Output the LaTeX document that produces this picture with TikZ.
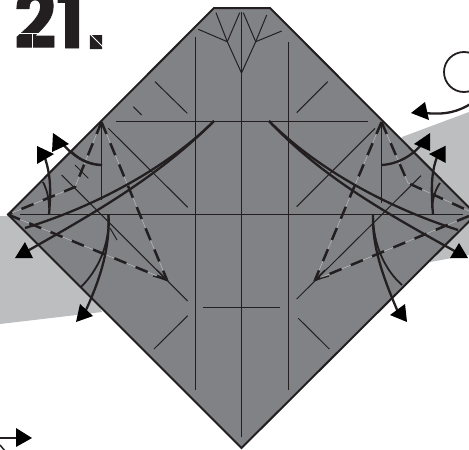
\documentclass[tikz,border=0pt]{standalone}
\usepackage{fontspec}
\newfontfamily\titlefont[BoldFeatures={FakeBold=1.2}]{Poppins}
\newfontfamily\dotfont[BoldFeatures={FakeBold=2.5}]{Liberation Sans}
\definecolor{ink}{HTML}{231F20}
\definecolor{paper}{HTML}{808285}
\definecolor{band}{HTML}{BCBEC0}
\tikzset{
  crease/.style={draw=ink,line width=1pt},
  edge/.style={draw=ink,line width=2pt,line join=miter},
  heavy/.style={draw=ink,line width=2.3pt},
  arc/.style={draw=ink,line width=1.8pt},
  mountain/.style={draw=ink,line width=2.5pt,dash pattern=on 13pt off 10pt},
  dots/.style={draw=white!55!paper,line width=0.4pt},
  head/.style={fill=black,draw=none},
  stencil/.style={draw=white,line width=1pt}
}
\begin{document}
\begin{tikzpicture}[x=1pt,y=-1pt]
\useasboundingbox (0,0) rectangle (469,450);
\clip (0,0) rectangle (469,450);
% background bands
\fill[band] (0,216) -- (60,216) -- (102,312) -- (0,324) -- cycle;
\fill[band] (402,137) -- (469,112) -- (469,255) -- (430,262) -- (380,200) -- cycle;
% paper
\path[fill=paper,edge] (214,8) -- (270,8) -- (476,214.5) -- (241.5,448) -- (8,214.5) -- cycle;
% title
\node[anchor=base west,inner sep=0pt,font=\bfseries\fontsize{80}{80}\selectfont,text=ink,xscale=0.92] (title) at (14,48) {{\titlefont 21}\kern2pt{\dotfont .}};
\draw[stencil] (17,33) -- (46,33);
\draw[stencil] (32,33) -- (32,49);
\draw[stencil] (90,34) -- (103,47);
% creases
\draw[crease] (195.5,37) -- (195.5,390);
\draw[crease] (241.5,12) -- (241.5,437);
\draw[crease] (288.5,42) -- (288.5,390);
\draw[crease] (116,121.5) -- (368,121.5);
\draw[crease] (20,214.5) -- (463,214.5);
\draw[crease] (203,307.5) -- (280,307.5);
\draw[crease] (241.5,73) -- (255.7,41.7) -- (243.3,12.7);
\draw[crease] (255.7,41.7) -- (266.7,15);
\draw[crease] (255.7,41.7) -- (281.7,31);
\draw[crease] (241.5,73) -- (227.3,41.7) -- (239.7,12.7);
\draw[crease] (227.3,41.7) -- (216,12.7);
\draw[crease] (227.3,41.7) -- (198.3,29.3);
\draw[crease] (155,81.7) -- (187.3,113.3);
\draw[crease] (133.3,106.7) -- (141.7,115);
\draw[crease] (108.3,128.3) -- (187.7,207.3);
\draw[crease] (61.7,175) -- (187.7,301);
\draw[crease] (75,165) -- (88.3,178.3);
\draw[crease] (154,349) -- (187.7,315.7);
\draw[crease] (296.7,112.7) -- (327.7,81.7);
\draw[crease] (296.7,206.7) -- (375,128.3);
\draw[crease] (421,175.7) -- (296.7,299);
\draw[crease] (298.3,318.3) -- (329.3,349);
\draw[crease] (101.5,122) -- (101.5,200);
\draw[crease] (381.5,122) -- (381.5,203);
\draw[crease] (110,228) -- (117,240);
% mountain folds
\draw[dots] (101.5,122) -- (75,187) -- (8,214.5);
\draw[mountain] (101.5,122) -- (75,187) -- (8,214.5);
\draw[dots] (101.5,122) -- (167,280) -- (8,214.5);
\draw[mountain] (101.5,122) -- (167,280);
\draw[mountain] (8,214.5) -- (167,280);
\draw[dots] (381.5,122) -- (408,183) -- (469,211);
\draw[mountain] (381.5,122) -- (408,183) -- (469,211);
\draw[dots] (381.5,122) -- (315,280) -- (469,216);
\draw[mountain] (381.5,122) -- (315,280);
\draw[mountain] (469,216) -- (315,280);
% open arrow tips on the dashed folds
\draw[crease,line width=1.3pt] (157,270) -- (167,280) -- (153,276);
\draw[crease,line width=1.3pt] (325,270) -- (315,280) -- (329,276);
% long swivel curves
\draw[heavy] (214,121) .. controls (170,165) and (100,205) .. (25,228);
\draw[heavy] (214,121) .. controls (160,175) and (100,210) .. (22,254);
\draw[heavy] (269,121) .. controls (313,165) and (380,205) .. (458,230);
\draw[heavy] (269,121) .. controls (320,175) and (380,210) .. (460,254);
% arcs upper left
\draw[heavy] (102,165) .. controls (85,165) and (72,155) .. (60,141);
\draw[arc] (72,152) .. controls (80,160) and (90,164) .. (102,165);
\draw[heavy] (49,214.5) .. controls (51,190) and (51,175) .. (44,155);
\draw[arc] (43,182) .. controls (47,190) and (49,198) .. (49,208);
% arcs upper right
\draw[heavy] (381.5,165) .. controls (398,164) and (412,156) .. (423,143);
\draw[heavy] (433,214.5) .. controls (431,190) and (431,170) .. (438,155);
\draw[arc] (440,183) .. controls (435,190) and (433,198) .. (432,208);
% arcs lower left
\draw[heavy] (108.5,214.5) .. controls (110,245) and (102,275) .. (86,310);
\draw[arc] (108.5,214.5) .. controls (110,245) and (98,270) .. (81,287);
% arcs lower right
\draw[heavy] (373,214.5) .. controls (372,245) and (382,275) .. (398,312);
\draw[arc] (373,214.5) .. controls (373,245) and (385,270) .. (402,285);
% arrowheads
\fill[head] (15,258) -- (25,242) -- (33,258) -- cycle;
\fill[head] (468,258) -- (459,243) -- (450,258) -- cycle;
\fill[head] (53,133) -- (52,152) -- (69,144) -- cycle;
\fill[head] (37,146) -- (37,164) -- (54,154) -- cycle;
\fill[head] (430,133) -- (414,144) -- (430,151) -- cycle;
\fill[head] (445.7,145.7) -- (429,154) -- (445.7,163) -- cycle;
\fill[head] (76,322) -- (80,304) -- (93,316) -- cycle;
\fill[head] (407,322) -- (405,304) -- (390,315) -- cycle;
% rotation symbol top right
\draw[draw=ink,line width=1.8pt] (464,72) circle (20);
\draw[heavy] (472,103) .. controls (458,112) and (445,115) .. (425,113);
\fill[head] (411,113) -- (425,102) -- (429,120) -- cycle;
% arrow bottom left
\draw[draw=ink,line width=1.8pt] (0,438) -- (18,438);
\draw[draw=ink,line width=1.5pt] (0,445) -- (5,451);
\fill[head] (32,438) -- (16,428) -- (16,447) -- cycle;
\end{tikzpicture}
\end{document}
